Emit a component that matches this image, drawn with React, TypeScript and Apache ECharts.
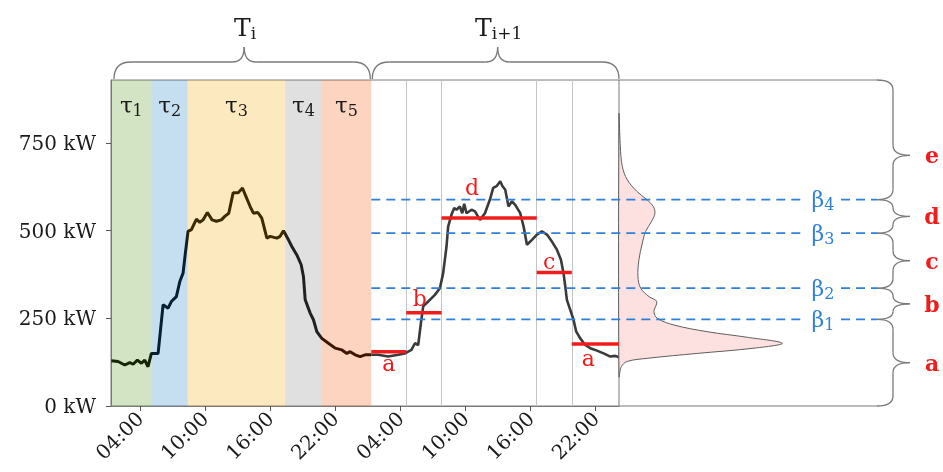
import React, { useEffect, useRef } from 'react';
import * as echarts from 'echarts';

// ---------- data ----------
const dayOneLoad: [number, number][] = [
  [1.38, 129], [2.0, 127], [2.62, 117], [3.08, 124], [3.38, 119], [3.78, 131], [4.15, 122], [4.46, 131],
  [4.76, 112], [5.07, 150], [5.69, 150], [6.15, 289], [6.61, 279], [6.91, 298], [7.37, 312], [7.69, 355],
  [7.99, 379], [8.2, 436], [8.45, 498], [8.76, 503], [9.22, 533], [9.53, 524], [9.83, 531], [10.23, 552],
  [10.66, 531], [11.06, 527], [11.52, 531], [11.83, 541], [12.2, 550], [12.6, 608], [13.06, 608], [13.46, 622],
  [13.71, 603], [14.17, 569], [14.47, 550], [14.88, 552], [15.24, 536], [15.71, 479], [16.01, 484], [16.63, 479],
  [16.93, 484], [17.24, 500], [17.7, 474], [18.01, 455], [18.47, 431], [18.87, 403], [19.08, 369], [19.24, 303],
  [19.7, 265], [20.0, 246], [20.31, 212], [20.77, 193], [21.38, 179], [22.0, 165], [22.62, 160], [23.08, 150],
  [23.38, 155], [23.84, 146], [24.3, 141], [24.76, 146], [25.33, 146],
];
const dayTwoLoad: [number, number][] = [
  [25.33, 146], [25.96, 146], [26.88, 141], [27.81, 146], [28.42, 150], [29.03, 160], [29.35, 179], [29.65, 174],
  [29.9, 236], [30.11, 284], [30.57, 298], [31.19, 317], [31.65, 336], [31.95, 379], [32.26, 455], [32.41, 512],
  [32.72, 546], [32.97, 565], [33.18, 560], [33.49, 569], [33.71, 550], [33.89, 577], [34.1, 550], [34.56, 560],
  [34.88, 555], [35.34, 531], [35.8, 550], [36.26, 589], [36.56, 622], [36.87, 627], [37.21, 641], [37.42, 627],
  [37.67, 617], [37.97, 569], [38.29, 584], [38.59, 574], [39.05, 550], [39.36, 512], [39.67, 460], [40.13, 474],
  [40.59, 489], [41.05, 498], [41.51, 489], [41.97, 469], [42.43, 446], [42.8, 417], [43.04, 379], [43.2, 341],
  [43.35, 303], [43.66, 274], [43.96, 246], [44.21, 212], [44.58, 193], [45.04, 174], [45.5, 165], [46.12, 158],
  [46.73, 150], [47.35, 141], [47.81, 143], [48.15, 139],
];

const periodBounds = [1.35, 5.1, 8.42, 17.4, 20.75, 25.33];
const periodIndices = ['1', '2', '3', '4', '5'];

const segmentBounds = [25.33, 28.55, 31.8, 40.57, 43.8, 48.15];
const segmentLevels = [155, 266, 536, 381, 177];
const segmentLetters = ['a', 'b', 'd', 'c', 'a'];

const betaLevels = [247, 336, 493, 589];
const betaIndices = ['1', '2', '3', '4'];
const classLetters = ['a', 'b', 'c', 'd', 'e'];

const densityLevels = [84, 112, 127, 136, 150, 165, 179, 196, 212, 231, 250, 269, 298, 312, 336, 369, 417, 465, 498, 527, 550, 569, 589, 612, 646, 684, 741, 831];
const densityValues = [0, 0.014, 0.05, 0.173, 0.48, 0.827, 1.0, 0.786, 0.54, 0.337, 0.235, 0.214, 0.231, 0.184, 0.133, 0.116, 0.122, 0.143, 0.163, 0.2, 0.22, 0.21, 0.17, 0.11, 0.05, 0.02, 0.008, 0];

const xTickHours = [4, 10, 16, 22, 28, 34, 40, 46];
const xTickLabels = ['04:00', '10:00', '16:00', '22:00', '04:00', '10:00', '16:00', '22:00'];
const yTickValues = [0, 250, 500, 750];
const yTickLabels = ['0 kW', '250 kW', '500 kW', '750 kW'];

// ---------- styles ----------
const FONT = 'DejaVu Serif';
const periodTints = [
  'rgba(75,147,19,0.25)',
  'rgba(23,127,195,0.25)',
  'rgba(247,167,0,0.25)',
  'rgba(131,131,131,0.25)',
  'rgba(243,83,0,0.25)',
];
const RED = '#f01c1c';
const BLUE = '#2f80d8';
const GRAY = '#7a7a7a';
const X_MIN = 1.35;
const X_MAX = 48.15;
const Y_MAX = 930;
const DENSITY_MAX = 1.58;

export default function App() {
  const ref = useRef<HTMLDivElement>(null);

  useEffect(() => {
    const el = ref.current!;
    const chart = echarts.init(el, undefined, { renderer: 'svg' });

    const segSeries = segmentLevels.map((lv, i) => ({
      type: 'line',
      xAxisIndex: 0,
      yAxisIndex: 0,
      data: [[segmentBounds[i], lv], [segmentBounds[i + 1], lv]],
      symbol: 'none',
      lineStyle: { color: RED, width: 3.5 },
      z: 6,
      silent: true,
    }));

    const option: any = {
      animation: false,
      grid: [
        { left: 111, top: 80, width: 508, height: 326, show: true, borderColor: GRAY, borderWidth: 1, backgroundColor: 'transparent' },
        { left: 619, top: 80, width: 258, height: 326 },
      ],
      xAxis: [
        {
          type: 'value', gridIndex: 0, min: X_MIN, max: X_MAX,
          axisLine: { show: true, lineStyle: { color: GRAY, width: 1 } },
          axisTick: { show: true, customValues: xTickHours, length: 5, lineStyle: { color: '#555' } },
          axisLabel: {
            customValues: xTickHours,
            formatter: (v: number) => xTickLabels[xTickHours.indexOf(v)] ?? '',
            rotate: 45, margin: 9, fontFamily: FONT, fontSize: 20, color: '#1a1a1a',
          },
          splitLine: { show: false },
        },
        { type: 'value', gridIndex: 1, min: 0, max: DENSITY_MAX, show: false },
      ],
      yAxis: [
        {
          type: 'value', gridIndex: 0, min: 0, max: Y_MAX,
          axisLine: { show: true, lineStyle: { color: GRAY, width: 1 } },
          axisTick: { show: true, customValues: yTickValues, length: 5, lineStyle: { color: '#555' } },
          axisLabel: {
            customValues: yTickValues,
            formatter: (v: number) => yTickLabels[yTickValues.indexOf(v)] ?? '',
            margin: 15, fontFamily: FONT, fontSize: 20, color: '#1a1a1a',
          },
          splitLine: { show: false },
        },
        { type: 'value', gridIndex: 1, min: 0, max: Y_MAX, show: false },
      ],
      series: [
        {
          type: 'line', xAxisIndex: 0, yAxisIndex: 0, data: [], z: 1, silent: true,
          markLine: {
            z: 1, silent: true, symbol: ['none', 'none'], label: { show: false },
            lineStyle: { color: '#c4c4c4', width: 1, type: 'solid' },
            data: segmentBounds.slice(1, -1).map((x) => ({ xAxis: x })),
          },
        },
        {
          type: 'line', xAxisIndex: 0, yAxisIndex: 0, data: dayOneLoad, symbol: 'none', z: 2,
          lineStyle: { color: '#000', width: 3 }, silent: true,
        },
        {
          type: 'line', xAxisIndex: 0, yAxisIndex: 0, data: dayTwoLoad, symbol: 'none', z: 2,
          lineStyle: { color: '#3a3a3a', width: 2.6 }, silent: true,
        },
        {
          type: 'line', xAxisIndex: 0, yAxisIndex: 0, data: [], z: 4, silent: true,
          markArea: {
            z: 4,
            silent: true,
            label: { show: false },
            data: periodIndices.map((_, i) => [
              { xAxis: periodBounds[i], yAxis: 0, itemStyle: { color: periodTints[i] } },
              { xAxis: periodBounds[i + 1], yAxis: Y_MAX },
            ]),
          },
        },
        ...segSeries,
        {
          type: 'custom', xAxisIndex: 1, yAxisIndex: 1, z: 3, silent: true, clip: false,
          data: densityLevels.map((lv, i) => [densityValues[i], lv]),
          renderItem: (params: any, api: any) => {
            if (params.dataIndex !== 0) return null;
            const pts = densityLevels.map((lv, i) => api.coord([densityValues[i], lv]));
            return {
              type: 'polygon',
              shape: { points: pts, smooth: 0.35 },
              style: { fill: '#fde0e0', stroke: '#5e5e5e', lineWidth: 1 },
            };
          },
        },
      ],
    };
    chart.setOption(option);

    const P = (x: number, y: number) => chart.convertToPixel({ xAxisIndex: 0, yAxisIndex: 0 }, [x, y]) as number[];
    const Q = (d: number, y: number) => chart.convertToPixel({ xAxisIndex: 1, yAxisIndex: 1 }, [d, y]) as number[];

    const yTop = P(X_MIN, Y_MAX)[1];
    const yBot = P(X_MIN, 0)[1];
    const xL = P(X_MIN, 0)[0];
    const xR = P(X_MAX, 0)[0];
    const xB = P(periodBounds[periodBounds.length - 1], 0)[0];
    const xD = Q(DENSITY_MAX, 0)[0];

    const g: any[] = [];
    const ln = (x1: number, y1: number, x2: number, y2: number, style: any) =>
      g.push({ type: 'line', shape: { x1, y1, x2, y2 }, style, silent: true, z: 100 });
    const bz = (x1: number, y1: number, cpx1: number, cpy1: number, x2: number, y2: number) =>
      g.push({ type: 'bezierCurve', shape: { x1, y1, cpx1, cpy1, x2, y2 }, style: { stroke: GRAY, lineWidth: 1.3, fill: 'none' }, silent: true, z: 100 });
    const braceStyle = { stroke: GRAY, lineWidth: 1.3 };

    // borders across the density panel
    ln(xR, yTop, xD, yTop, { stroke: GRAY, lineWidth: 1 });
    ln(xR, yBot, xD, yBot, { stroke: GRAY, lineWidth: 1 });

    // beta dashed lines + labels
    const betaPx = betaLevels.map((b) => P(X_MIN, b)[1]);
    const gapA = xD - 72;
    const gapB = xD - 36;
    betaPx.forEach((py, i) => {
      const dash = { stroke: BLUE, lineWidth: 1.8, lineDash: [9, 6] };
      ln(xB, py, gapA, py, dash);
      ln(gapB, py, xD, py, dash);
      g.push({
        type: 'text', x: (gapA + gapB) / 2, y: py, z: 101, silent: true,
        style: {
          text: `{g|β}{s|${betaIndices[i]}}`, align: 'center', verticalAlign: 'middle',
          rich: {
            g: { fontFamily: FONT, fontSize: 22, fill: BLUE, color: BLUE },
            s: { fontFamily: FONT, fontSize: 16, fill: BLUE, color: BLUE, padding: [10, 0, 0, 0] },
          },
        },
      });
    });

    // right braces
    const bounds = [yBot, ...betaPx, yTop];
    const xm = xD + 16;
    const xt = xm + 17;
    for (let i = 0; i < classLetters.length; i++) {
      const y2 = bounds[i];
      const y1 = bounds[i + 1];
      const ym = i === classLetters.length - 1 ? y1 + 0.63 * (y2 - y1) : (y1 + y2) / 2;
      const r = Math.min(10, (ym - y1) / 2, (y2 - ym) / 2);
      bz(xD, y1, xm, y1, xm, y1 + r);
      ln(xm, y1 + r, xm, ym - r, braceStyle);
      bz(xm, ym - r, xm, ym, xt, ym);
      bz(xt, ym, xm, ym, xm, ym + r);
      ln(xm, ym + r, xm, y2 - r, braceStyle);
      bz(xm, y2 - r, xm, y2, xD, y2);
      g.push({
        type: 'text', x: xD + 55, y: ym, z: 101, silent: true,
        style: { text: classLetters[i], align: 'center', verticalAlign: 'middle', fontFamily: FONT, fontSize: 22, fontWeight: 'bold', fill: RED },
      });
    }

    // top braces
    const hBrace = (x1: number, x2: number, label: string) => {
      const yb = yTop - 1;
      const yBar = yTop - 18;
      const yTip = yTop - 33;
      const xc = (x1 + x2) / 2 + 2;
      const r1 = 17;
      const r2 = 12;
      bz(x1, yb, x1, yBar, x1 + r1, yBar);
      ln(x1 + r1, yBar, xc - r2, yBar, braceStyle);
      bz(xc - r2, yBar, xc, yBar, xc, yTip);
      bz(xc, yTip, xc, yBar, xc + r2, yBar);
      ln(xc + r2, yBar, x2 - r1, yBar, braceStyle);
      bz(x2 - r1, yBar, x2, yBar, x2, yb);
      g.push({
        type: 'text', x: xc + 1, y: yTop - 53, z: 101, silent: true,
        style: {
          text: label, align: 'center', verticalAlign: 'middle',
          rich: {
            t: { fontFamily: FONT, fontSize: 25, fill: '#1a1a1a' },
            s: { fontFamily: FONT, fontSize: 17, fill: '#1a1a1a', padding: [12, 0, 0, 0] },
          },
        },
      });
    };
    hBrace(xL + 3, xB - 1, '{t|T}{s|i}');
    hBrace(xB + 1, xR, '{t|T}{s|i+1}');

    // period labels
    periodIndices.forEach((s, i) => {
      const cx = (P(periodBounds[i], 0)[0] + P(periodBounds[i + 1], 0)[0]) / 2;
      g.push({
        type: 'text', x: cx, y: yTop + 25, z: 101, silent: true,
        style: {
          text: `{t|τ}{s|${s}}`, align: 'center', verticalAlign: 'middle',
          rich: {
            t: { fontFamily: FONT, fontSize: 23, fill: '#1a1a1a' },
            s: { fontFamily: FONT, fontSize: 16, fill: '#1a1a1a', padding: [10, 0, 0, 0] },
          },
        },
      });
    });

    // segment letters
    const letterOffsets = [[0, 12], [-4, -14], [-17, -31], [-5, -11], [-7, 15]];
    segmentLevels.forEach((lv, i) => {
      const p = P((segmentBounds[i] + segmentBounds[i + 1]) / 2, lv);
      g.push({
        type: 'text', x: p[0] + letterOffsets[i][0], y: p[1] + letterOffsets[i][1], z: 101, silent: true,
        style: { text: segmentLetters[i], align: 'center', verticalAlign: 'middle', fontFamily: FONT, fontSize: 22, fill: RED },
      });
    });

    chart.setOption({ graphic: { elements: g } });

    return () => chart.dispose();
  }, []);

  return <div ref={ref} style={{ position: 'fixed', left: 0, top: 0, width: 943, height: 472 }} />;
}
